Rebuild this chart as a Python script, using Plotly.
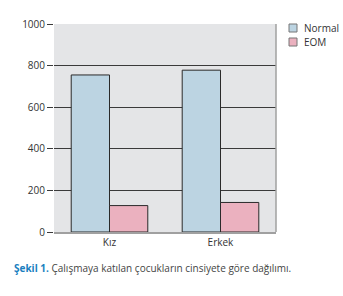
import plotly.graph_objects as go

categories = ["Kız", "Erkek"]
normal_values = [755, 778]
eom_values = [127, 142]
series_names = ["Normal", "EOM"]
series_colors = ["#bcd4e2", "#ebb1bf"]
y_ticks = [0, 200, 400, 600, 800, 1000]

L, R, T, B = 54, 67, 24, 64
W, H = 343, 296
pw, ph = W - L - R, H - T - B


def px(x):
    return (x - L) / pw


def py(y):
    return (H - B - y) / ph


fig = go.Figure()
fig.add_trace(go.Bar(x=categories, y=normal_values, name=series_names[0],
                     marker=dict(color=series_colors[0], line=dict(color="#2a2a2a", width=1))))
fig.add_trace(go.Bar(x=categories, y=eom_values, name=series_names[1],
                     marker=dict(color=series_colors[1], line=dict(color="#2a2a2a", width=1))))

fig.update_layout(
    width=W, height=H,
    margin=dict(l=L, r=R, t=T, b=B),
    paper_bgcolor="white",
    plot_bgcolor="#e4e5e7",
    barmode="group",
    bargap=0.31,
    bargroupgap=0,
    font=dict(family="Open Sans, Liberation Sans, sans-serif", size=10, color="#333"),
    showlegend=False,
)
fig.update_yaxes(range=[0, 1000], tickvals=y_ticks, showgrid=True, gridcolor="#3a3a3a",
                 gridwidth=1, ticks="outside", ticklen=6, tickcolor="#3a3a3a",
                 showline=False, zeroline=False, tickfont=dict(size=10, color="#333"))
fig.update_xaxes(showline=True, linecolor="#a0a0a0", linewidth=1.5, ticks="",
                 tickfont=dict(size=10, color="#333"), mirror=False)

# right border of plot area
fig.add_shape(type="line", xref="paper", yref="paper", x0=1, x1=1, y0=0, y1=1,
              line=dict(color="#a0a0a0", width=1.5))

# manual legend
for i, (name, col) in enumerate(zip(series_names, series_colors)):
    y0 = 24 + 14 * i
    fig.add_shape(type="rect", xref="paper", yref="paper",
                  x0=px(289), x1=px(297), y0=py(y0 + 8), y1=py(y0),
                  fillcolor=col, line=dict(color="#777", width=1))
    fig.add_annotation(xref="paper", yref="paper", x=px(302), y=py(y0 + 4),
                       xanchor="left", yanchor="middle", showarrow=False,
                       text=name, font=dict(size=10, color="#333"))

fig.add_annotation(xref="paper", yref="paper", x=px(12), y=py(268),
                   xanchor="left", yanchor="middle", showarrow=False,
                   text="<b><span style='color:#1a7fc0'>Şekil 1.</span></b> Çalışmaya katılan çocukların cinsiyete göre dağılımı.",
                   font=dict(size=10, color="#444"))

fig.write_html("out.html")
